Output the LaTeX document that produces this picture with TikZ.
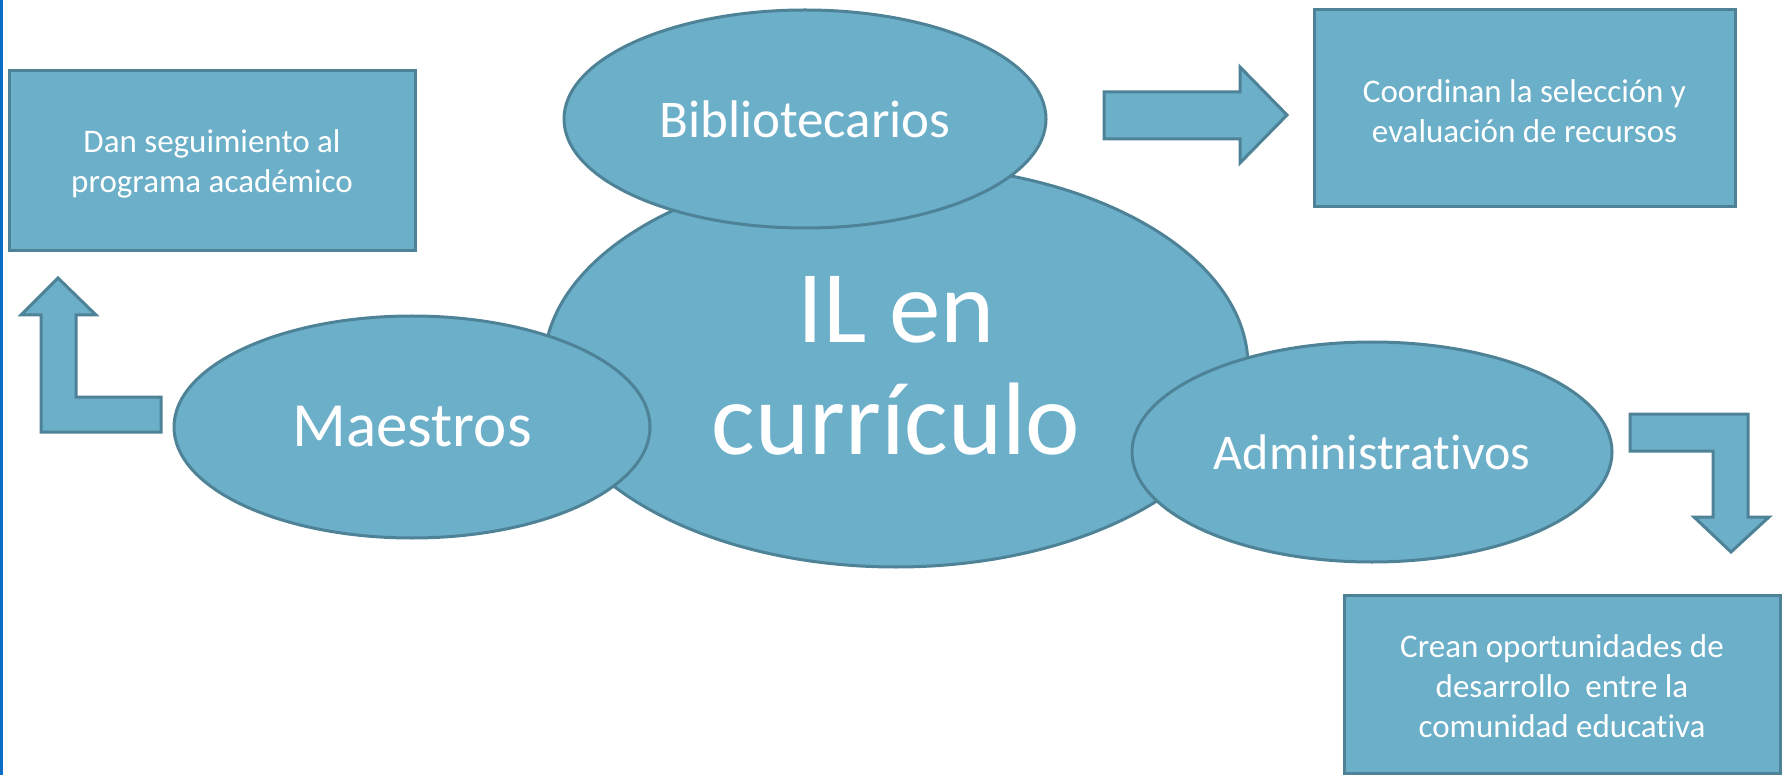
\documentclass[tikz,border=0pt]{standalone}
\usepackage{fontspec}
\setmainfont{Carlito}[Ligatures=NoCommon]
\usetikzlibrary{shapes.geometric}
\definecolor{fillblue}{HTML}{6BAFC9}
\definecolor{edgeblue}{HTML}{4E8297}
\definecolor{sideblue}{HTML}{0A6FC4}
\tikzset{
  shapebase/.style={fill=fillblue, draw=edgeblue, line width=3pt, text=white, inner sep=0pt},
  oval/.style={shapebase, ellipse},
  infobox/.style={shapebase, rectangle},
  infotext/.style={text=white, align=center, inner sep=0pt, font=\fontsize{33}{40}\selectfont},
  blockarrow/.style={fill=fillblue, draw=edgeblue, line width=3pt, line join=miter},
}
\begin{document}
\begin{tikzpicture}[x=1pt,y=-1pt]
\useasboundingbox (0,0) rectangle (1788,775);
\fill[white] (0,0) rectangle (1788,775);
\fill[sideblue] (0,0) rectangle (2.5,775);

% central ellipse
\node[oval, minimum width=704pt, minimum height=402pt,
      align=center, font=\fontsize{103}{112}\selectfont] (center) at (896,366) {IL en\\currículo};

% satellites
\node[oval, minimum width=482pt, minimum height=218pt,
      font=\fontsize{53}{60}\selectfont] (biblio) at (805,119) {Bibliotecarios};
\node[oval, minimum width=476pt, minimum height=222pt,
      font=\fontsize{63}{70}\selectfont] (maestros) at (412,427) {Maestros};
\node[oval, minimum width=480pt, minimum height=220pt,
      font=\fontsize{50}{58}\selectfont] (admin) at (1372,452) {Administrativos};

% text boxes
\node[infobox, minimum width=406pt, minimum height=180pt] (seg) at (212,161) {};
\node[infotext] (segtext) at ([yshift=-3pt]seg.center) {Dan seguimiento al\\programa académico};
\node[infobox, minimum width=421pt, minimum height=197pt] (coord) at (1524.5,108.5) {};
\node[infotext] (coordtext) at ([yshift=-3pt]coord.center) {Coordinan la selección y\\evaluación de recursos};
\node[infobox, minimum width=436pt, minimum height=178pt] (crean) at (1562,684) {};
\node[infotext] (creantext) at ([yshift=-2pt]crean.center) {Crean oportunidades de\\desarrollo~ entre la\\comunidad educativa};

% block arrows
\draw[blockarrow] (58,278) -- (96,315) -- (76,315) -- (76,397) -- (161,397)
  -- (161,432) -- (41,432) -- (41,315) -- (21,315) -- cycle;
\draw[blockarrow] (1104,92) -- (1240,92) -- (1240,67) -- (1287,115)
  -- (1240,163) -- (1240,139) -- (1104,139) -- cycle;
\draw[blockarrow] (1630,414) -- (1748,414) -- (1748,517) -- (1769,517)
  -- (1731,552) -- (1694,517) -- (1713,517) -- (1713,451) -- (1630,451) -- cycle;
\end{tikzpicture}
\end{document}
